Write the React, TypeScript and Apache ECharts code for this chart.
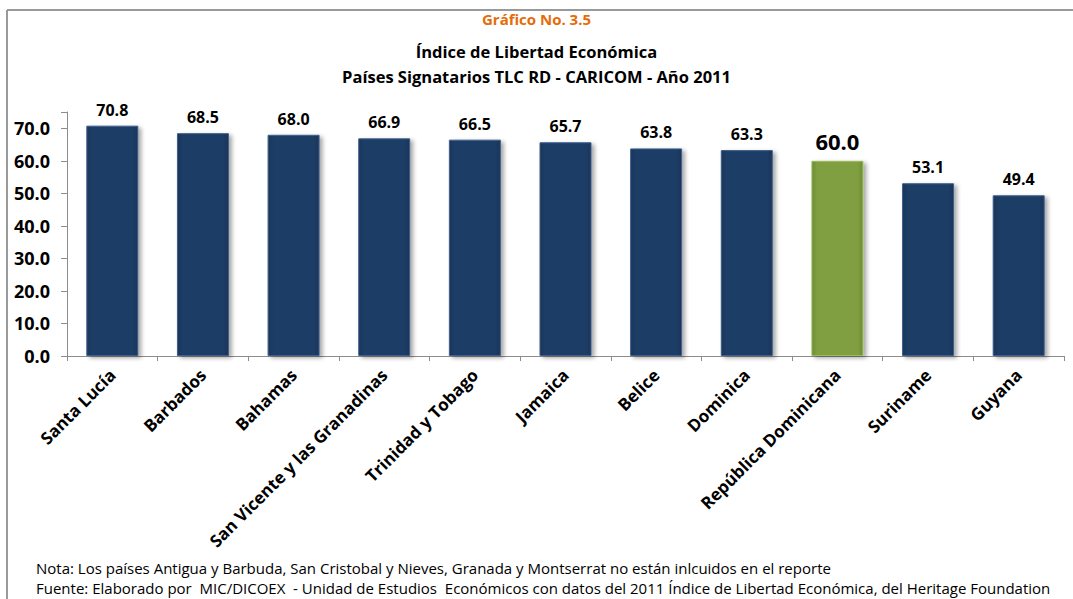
import React, { useEffect, useRef } from "react";
import * as echarts from "echarts";

const categories = [
  "Santa Lucía",
  "Barbados",
  "Bahamas",
  "San Vicente y las Granadinas",
  "Trinidad y Tobago",
  "Jamaica",
  "Belice",
  "Dominica",
  "República Dominicana",
  "Suriname",
  "Guyana",
];
const values = [70.8, 68.5, 68.0, 66.9, 66.5, 65.7, 63.8, 63.3, 60.0, 53.1, 49.4];
const highlightIndex = 8;

const titleLines = [
  "Gráfico No. 3.5",
  "Índice de Libertad Económica",
  "Países Signatarios TLC RD - CARICOM - Año 2011",
];
const notes = [
  "Nota: Los países Antigua y Barbuda, San Cristobal y Nieves, Granada y Montserrat no están inlcuidos en el reporte",
  "Fuente: Elaborado por  MIC/DICOEX  - Unidad de Estudios  Económicos con datos del 2011 Índice de Libertad Económica, del Heritage Foundation",
];

const FONT = "'Open Sans', 'Noto Sans', sans-serif";

export default function App() {
  const ref = useRef<HTMLDivElement>(null);
  useEffect(() => {
    document.body.style.margin = "0";
    if (!ref.current) return;
    const chart = echarts.init(ref.current, null, { renderer: "svg" });
    const navy = new echarts.graphic.LinearGradient(0, 0, 1, 0, [
      { offset: 0, color: "#1a3457" },
      { offset: 0.1, color: "#1f3d66" },
      { offset: 0.9, color: "#1f3d66" },
      { offset: 1, color: "#1a3457" },
    ]);
    const green = new echarts.graphic.LinearGradient(0, 0, 1, 0, [
      { offset: 0, color: "#6d8c35" },
      { offset: 0.1, color: "#7f9f41" },
      { offset: 0.9, color: "#7f9f41" },
      { offset: 1, color: "#6d8c35" },
    ]);
    const data = values.map((v, i) => {
      const hl = i === highlightIndex;
      return {
        value: v,
        itemStyle: {
          color: hl ? green : navy,
          borderColor: hl ? "#9cbb5a" : "#3f5f8c",
          borderWidth: 1,
          shadowColor: "rgba(0,0,0,0.35)",
          shadowBlur: 4,
          shadowOffsetX: 3,
          shadowOffsetY: 2,
        },
        label: hl ? { fontSize: 22, distance: 9 } : undefined,
      };
    });
    chart.setOption({
      animation: false,
      backgroundColor: "#ffffff",
      title: titleLines.map((t, i) => ({
        text: t,
        left: "center",
        top: [6, 38, 63][i],
        textStyle: {
          fontFamily: FONT,
          fontWeight: "bold",
          fontSize: i === 0 ? 15 : 16.5,
          color: i === 0 ? "#e46c0a" : "#000000",
        },
      })),
      grid: { left: 67, right: 9, top: 112, bottom: 243, containLabel: false },
      xAxis: {
        type: "category",
        data: categories,
        axisLine: { show: true, lineStyle: { color: "#8c8c8c", width: 1 } },
        axisTick: { show: true, length: 5, lineStyle: { color: "#8c8c8c" } },
        axisLabel: {
          rotate: 45,
          interval: 0,
          margin: 16,
          fontFamily: FONT,
          fontWeight: "bold",
          fontSize: 17,
          color: "#000",
        },
      },
      yAxis: {
        type: "value",
        min: 0,
        max: 75,
        interval: 10,
        splitLine: { show: false },
        axisLine: { show: true, lineStyle: { color: "#8c8c8c", width: 1 } },
        axisTick: { show: true, length: 6, lineStyle: { color: "#8c8c8c" } },
        axisLabel: {
          margin: 17,
          fontFamily: FONT,
          fontWeight: "bold",
          fontSize: 18,
          color: "#000",
          formatter: (v: number) => (v % 10 === 0 ? v.toFixed(1) : ""),
        },
      },
      series: [
        {
          type: "bar",
          data,
          barWidth: 52,
          label: {
            show: true,
            position: "top",
            distance: 8,
            fontFamily: FONT,
            fontWeight: "bold",
            fontSize: 16,
            color: "#000",
            formatter: (p: any) => Number(p.value).toFixed(1),
          },
        },
      ],
      graphic: [
        {
          type: "line",
          shape: { x1: 7, y1: 10, x2: 1073, y2: 10 },
          style: { stroke: "#9a9a9a", lineWidth: 2 },
        },
        {
          type: "line",
          shape: { x1: 7, y1: 10, x2: 7, y2: 599 },
          style: { stroke: "#9a9a9a", lineWidth: 2 },
        },
        ...notes.map((n, i) => ({
          type: "text",
          left: 36,
          top: [560, 580][i],
          style: { text: n, fontFamily: FONT, fontSize: 15, fill: "#000" },
        })),
      ],
    });
    return () => chart.dispose();
  }, []);
  return (
    <div
      ref={ref}
      style={{ position: "absolute", left: 0, top: 0, width: 1073, height: 599 }}
    />
  );
}
